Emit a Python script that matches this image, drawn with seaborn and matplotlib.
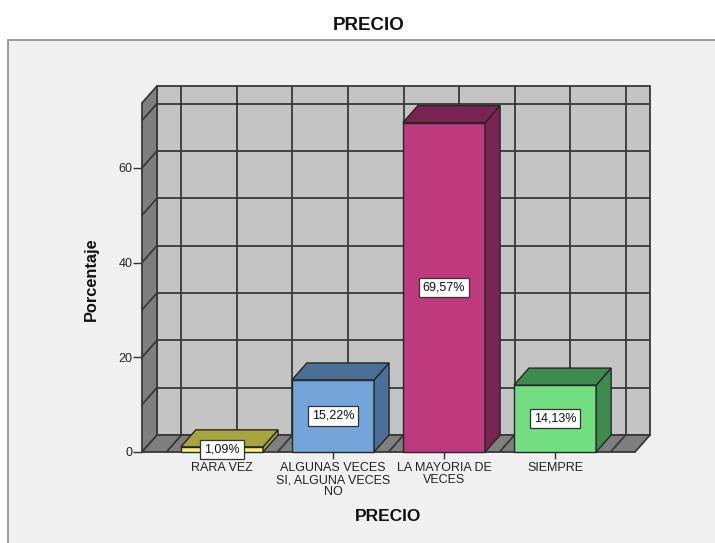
import matplotlib
matplotlib.use("Agg")
import matplotlib.pyplot as plt
import seaborn as sns
import pandas as pd
from matplotlib.patches import Polygon, Rectangle

# Data
categorias = ["RARA VEZ", "ALGUNAS VECES\nSI, ALGUNA VECES\nNO", "LA MAYORIA DE\nVECES", "SIEMPRE"]
porcentajes = [1.09, 15.22, 69.57, 14.13]
etiquetas = ["1,09%", "15,22%", "69,57%", "14,13%"]
y_ticks = [0, 20, 40, 60]

# Styling
color_frente = ["#f3f27a", "#74a5d9", "#be3a7c", "#72dd81"]
color_sombra = ["#a7a53f", "#4b6f95", "#7a2551", "#3f8b4f"]
GRID = "#383838"
WALL = "#c4c4c4"
SIDE = "#7f7f7f"

sns.set_theme(style="white")
plt.rcParams["font.family"] = ["Liberation Sans", "DejaVu Sans"]

W, H = 715, 543
fig = plt.figure(figsize=(W / 100, H / 100), dpi=100)
fig.patch.set_facecolor("white")

# Light panel behind the chart
fig.patches.append(Rectangle((8 / W, -0.05), 1.2, 1 - 40 / H + 0.05,
                             transform=fig.transFigure, facecolor="#f0f0f0",
                             edgecolor="#8c8c8c", lw=1.2, zorder=-5))

# Front plane of the 3-D box
L, R, T, B = 142, 635, 103, 452
ax = fig.add_axes([L / W, 1 - B / H, (R - L) / W, (B - T) / H])
ax.patch.set_visible(False)
XMIN, XMAX, YMAX = -0.72, 3.72, 73.7

df = pd.DataFrame({"PRECIO": categorias, "Porcentaje": porcentajes})
sns.barplot(data=df, x="PRECIO", y="Porcentaje", hue="PRECIO", palette=color_frente,
            width=0.74, saturation=1, edgecolor="#262626", linewidth=1.0,
            legend=False, ax=ax, zorder=5)
bar_faces = list(ax.patches)

ax.set_xlim(XMIN, XMAX)
ax.set_ylim(0, YMAX)

# depth offset in data units (15 px right, 17 px up)
px_x = (R - L) / (XMAX - XMIN)
px_y = (B - T) / YMAX
dx, dy = 15 / px_x, 17 / px_y

def poly(pts, fc, z, ec=GRID, lw=1.0):
    ax.add_patch(Polygon(pts, closed=True, facecolor=fc, edgecolor=ec, lw=lw,
                         zorder=z, clip_on=False))

def line(xs, ys, z, color=GRID, lw=1.3):
    ax.plot(xs, ys, color=color, lw=lw, zorder=z, clip_on=False, solid_capstyle="butt")

# back wall
poly([(XMIN + dx, dy), (XMAX + dx, dy), (XMAX + dx, YMAX + dy), (XMIN + dx, YMAX + dy)],
     WALL, 1, lw=1.3)
# left wall
poly([(XMIN, 0), (XMIN + dx, dy), (XMIN + dx, YMAX + dy), (XMIN, YMAX)], SIDE, 1.5, lw=1.3)
# floor
poly([(XMIN, 0), (XMAX, 0), (XMAX + dx, dy), (XMIN + dx, dy)], SIDE, 1.5, lw=1.3)

grid_y = [10, 20, 30, 40, 50, 60, 70]
grid_x = [-0.5, 0, 0.5, 1, 1.5, 2, 2.5, 3, 3.5]
for gy in grid_y:
    line([XMIN + dx, XMAX + dx], [gy + dy, gy + dy], 2)
    line([XMIN, XMIN + dx], [gy, gy + dy], 2)
for gx in grid_x:
    line([gx + dx, gx + dx], [dy, YMAX + dy], 2)
    line([gx, gx + dx], [0, dy], 2)

# side and top faces of each bar
for i, p in enumerate(bar_faces):
    x0 = p.get_x()
    x1 = x0 + p.get_width()
    h = p.get_height()
    p.set_clip_on(False)
    poly([(x1, 0), (x1 + dx, dy), (x1 + dx, h + dy), (x1, h)], color_sombra[i], 5, ec="#262626")
    poly([(x0, h), (x0 + dx, h + dy), (x1 + dx, h + dy), (x1, h)], color_sombra[i], 5, ec="#262626")

# value labels
for i, (v, t) in enumerate(zip(porcentajes, etiquetas)):
    ax.text(i, v / 2, t, ha="center", va="center", fontsize=9, color="#111111", zorder=8,
            bbox=dict(boxstyle="square,pad=0.3", facecolor="white", edgecolor="#333333", lw=0.9))

for s in ax.spines.values():
    s.set_visible(False)

ax.set_yticks(y_ticks)
ax.set_yticklabels([str(v) for v in y_ticks], fontsize=9, color="#222222")
ax.set_xticks(range(len(categorias)))
ax.set_xticklabels(categorias, fontsize=9, color="#222222", linespacing=0.97)
ax.tick_params(axis="y", left=True, length=6.5, width=1, color="#333333", pad=0.5)
ax.tick_params(axis="x", bottom=True, length=5, width=1, color="#333333", pad=2.5)

ax.set_ylabel("Porcentaje", fontsize=11.8, fontweight="bold", color="#111111")
ax.yaxis.set_label_coords((99 - L) / (R - L), (B - 279) / (B - T))
ax.set_xlabel("PRECIO", fontsize=12.5, fontweight="bold", color="#111111")
ax.xaxis.set_label_coords((388 - L) / (R - L), (B - 509) / (B - T))

fig.text(369 / W, 1 - 25.5 / H, "PRECIO", ha="center", va="center",
         fontsize=13.5, fontweight="bold", color="#111111")

fig.savefig("out.png", dpi=100)
